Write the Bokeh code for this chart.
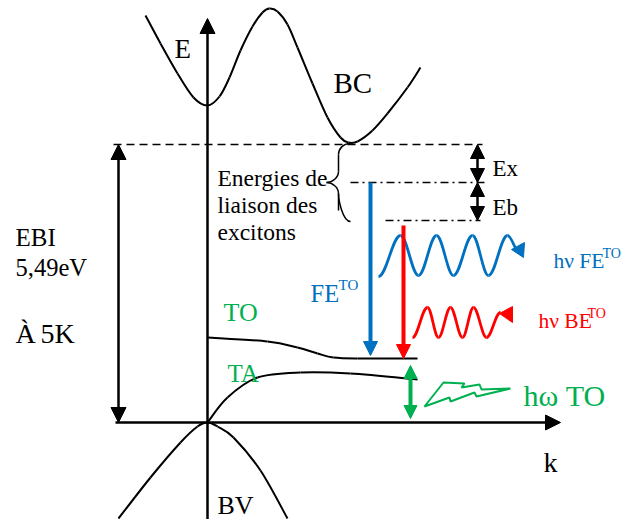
from bokeh.plotting import figure
from bokeh.models import Range1d, Arrow, NormalHead, ColumnDataSource
from bokeh.core.properties import value
from bokeh.embed import file_html
from bokeh.resources import INLINE

# ---------------- data (schematic, arbitrary units: k, E) ----------------
# conduction band BC
bc_k = [-62, -47, -30, -14, 0, 12, 22, 33, 45, 55, 62, 70, 80, 90, 105, 120, 133, 141, 150, 165, 180, 200, 213]
bc_E = [407, 379, 349, 325, 317, 326, 345, 372, 396, 410, 414, 411, 398, 375, 339, 305, 285, 280, 281, 292, 309, 335, 355]
# valence band BV
bv_k = [-89, -57, -27, -10, 0, 10, 26, 53, 80]
bv_E = [-96, -55, -20, -4, 0, -4, -15, -48, -96]
# phonon branches
to_k = [0, 60, 90, 110, 126, 150, 210]
to_E = [85, 81, 75, 69, 65, 64, 64]
ta_k = [0, 20, 50, 93, 143, 210]
ta_E = [0, 25, 45, 50, 49, 43]

# energy levels
E_gap = 278          # EBI 5,49 eV
E_fe = 240           # free exciton level
E_be = 202           # bound exciton level

# emission waves (extrema)
wave_fe_k = [171, 193, 211, 229, 246, 265, 281, 300, 312]
wave_fe_E = [146, 187, 147, 187, 147, 187, 147, 187, 170]
wave_be_k = [205, 220, 231, 243, 255, 266, 279, 293]
wave_be_E = [85, 115, 85, 115, 85, 115, 85, 110]
head_fe_k = [304, 317, 316]
head_fe_E = [173, 180, 165]
head_be_k = [292, 305, 305]
head_be_E = [109, 116, 100]

# phonon emission (lightning)
bolt_k = [217, 236, 257, 254, 272, 274, 303, 269, 267, 243, 242]
bolt_E = [16, 40, 39, 35, 38, 33, 34, 26, 30, 21, 25]

BLUE = "#0070C0"
RED = "#FF0000"
GREEN = "#00B050"
FONT = value("Liberation Serif")

# ---------------- helpers ----------------
def catmull(ks, Es):
    P = list(zip(ks, Es))
    n = len(P)
    d = dict(x0=[], y0=[], x1=[], y1=[], cx0=[], cy0=[], cx1=[], cy1=[])
    for i in range(n - 1):
        p0 = P[i - 1] if i > 0 else P[i]
        p1, p2 = P[i], P[i + 1]
        p3 = P[i + 2] if i + 2 < n else P[i + 1]
        d["x0"].append(p1[0]); d["y0"].append(p1[1])
        d["x1"].append(p2[0]); d["y1"].append(p2[1])
        d["cx0"].append(p1[0] + (p2[0] - p0[0]) / 6)
        d["cy0"].append(p1[1] + (p2[1] - p0[1]) / 6)
        d["cx1"].append(p2[0] - (p3[0] - p1[0]) / 6)
        d["cy1"].append(p2[1] - (p3[1] - p1[1]) / 6)
    return ColumnDataSource(d)


def wave(ks, Es):
    a = 0.364
    d = dict(x0=[], y0=[], x1=[], y1=[], cx0=[], cy0=[], cx1=[], cy1=[])
    for i in range(len(ks) - 1):
        x0, y0, x1, y1 = ks[i], Es[i], ks[i + 1], Es[i + 1]
        dx = x1 - x0
        d["x0"].append(x0); d["y0"].append(y0)
        d["x1"].append(x1); d["y1"].append(y1)
        d["cx0"].append(x0 + a * dx); d["cy0"].append(y0)
        d["cx1"].append(x1 - a * dx); d["cy1"].append(y1)
    return ColumnDataSource(d)


p = figure(width=632, height=519, x_range=Range1d(-207, 425), y_range=Range1d(-97, 422),
           output_backend="svg", toolbar_location=None, min_border=0,
           x_axis_type=None, y_axis_type=None)
p.grid.visible = False
p.outline_line_color = None
p.background_fill_color = "white"

bz = dict(x0="x0", y0="y0", x1="x1", y1="y1", cx0="cx0", cy0="cy0", cx1="cx1", cy1="cy1")

# bands
p.bezier(source=catmull(bc_k, bc_E), line_color="black", line_width=2, **bz)
p.bezier(source=catmull(bv_k, bv_E), line_color="black", line_width=2, **bz)
p.bezier(source=catmull(to_k, to_E), line_color="black", line_width=2, **bz)
p.bezier(source=catmull(ta_k, ta_E), line_color="black", line_width=2, **bz)

# axes with arrows
def arrow(x0, y0, x1, y1, color="black", lw=2.5, size=15, both=False):
    head = lambda: NormalHead(size=size, fill_color=color, line_color=color, line_width=1)
    p.add_layout(Arrow(x_start=x0, y_start=y0, x_end=x1, y_end=y1,
                       line_color=color, line_width=lw, end=head(),
                       start=head() if both else None))

arrow(0, bv_E[0] - 4, 0, 404)       # E axis
arrow(-92, 0, 353, 0)               # k axis
arrow(-89, 0, -89, E_gap, both=True)  # EBI

# levels
p.line([-94, 275], [E_gap, E_gap], line_color="black", line_width=1.5, line_dash="8 5")
p.line([143, 280], [E_fe, E_fe], line_color="black", line_width=1.5, line_dash="8 4 2 4")
p.line([178, 273], [E_be, E_be], line_color="black", line_width=1.5, line_dash="8 4 2 4")

# Ex, Eb arrows
arrow(270, E_gap, 270, E_fe, lw=2.5, size=14, both=True)
arrow(270, E_fe, 270, E_be, lw=2.5, size=14, both=True)

# recombination arrows
arrow(163, E_fe, 163, to_E[-1] + 3, color=BLUE, lw=4, size=14)
arrow(196, E_be - 5, 196, to_E[-1], color=RED, lw=4, size=14)
arrow(203, ta_E[-1] + 14, 203, 4, color=GREEN, lw=4, size=13, both=True)

# brace
bk = [143, 131, 119]
bE = [E_gap + 1, E_fe, E_be - 1]
brace = dict(
    x0=[bk[0], bk[1], bk[2], bk[1]], y0=[bE[0], bE[1] + 11, bE[1], bE[1] - 11],
    x1=[bk[1], bk[2], bk[1], bk[0]], y1=[bE[0] - 11, bE[1], bE[1] - 11, bE[2]],
    cx0=[bk[1] + 4, bk[1], bk[2] + 6, bk[1]], cy0=[bE[0], bE[1] + 5, bE[1], bE[1] - 17],
    cx1=[bk[1], bk[2] + 6, bk[1], bk[1] + 4], cy1=[bE[0] - 6, bE[1], bE[1] - 5, bE[2]],
)
p.bezier(source=ColumnDataSource(brace), line_color="black", line_width=1.5, **bz)
p.segment(x0=[bk[1], bk[1]], y0=[bE[0] - 11, bE[1] - 11], x1=[bk[1], bk[1]], y1=[bE[1] + 11, bE[2] + 11],
          line_color="black", line_width=1.5)

# photon waves
p.bezier(source=wave(wave_fe_k, wave_fe_E), line_color=BLUE, line_width=2.8, **bz)
p.patch(head_fe_k, head_fe_E, fill_color=BLUE, line_color=BLUE)
p.bezier(source=wave(wave_be_k, wave_be_E), line_color=RED, line_width=2.8, **bz)
p.patch(head_be_k, head_be_E, fill_color=RED, line_color=RED)

# lightning
p.patch(bolt_k, bolt_E, fill_color="white", line_color=GREEN, line_width=2)

# texts
def txt(x, y, s, size, color="black"):
    p.text(x=[x], y=[y], text=[s], text_font=FONT, text_font_size=f"{size}px",
           text_color=color, text_align="left", text_baseline="alphabetic")

txt(-33, 374, "E", 27)
txt(126, 340, "BC", 29)
txt(-192, 185, "EBI", 25)
txt(-192, 155, "5,49eV", 24.5)
txt(-192, 89, "À", 28)
txt(-167, 89, "5K", 28)
txt(10, 245, "Energies de", 23.5)
txt(10, 218, "liaison des", 23.5)
txt(10, 191, "excitons", 23.5)
txt(285, 254, "Ex", 23)
txt(285, 215, "Eb", 23)
txt(103, 129, "FE", 24.5, BLUE)
txt(131, 138, "TO", 15, BLUE)
txt(346, 162, "hν FE", 21.5, BLUE)
txt(395, 169, "TO", 14, BLUE)
txt(331, 102, "hν BE", 21.5, RED)
txt(380, 109, "TO", 14, RED)
txt(16, 110, "TO", 26, GREEN)
txt(20, 49, "TA", 25, GREEN)
txt(316, 27, "hω TO", 30, GREEN)
txt(336, -40, "k", 28)
txt(10, -83, "BV", 26)

open("out.html", "w").write(file_html(p, INLINE))
